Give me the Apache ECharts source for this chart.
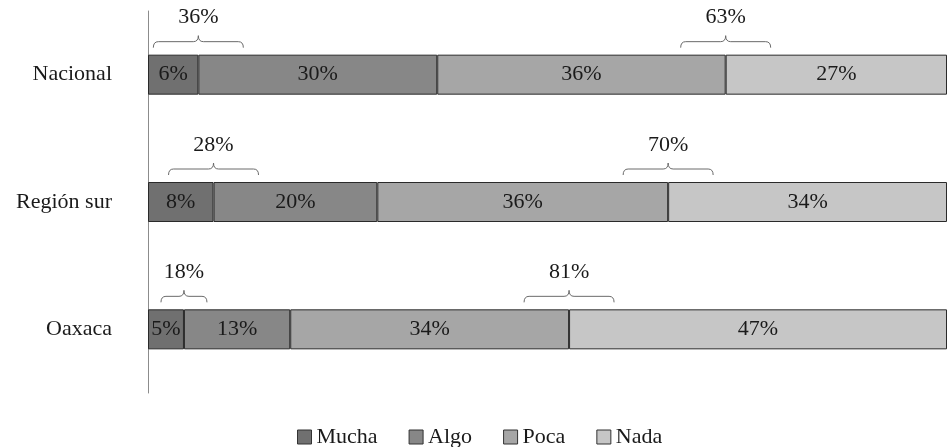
<!DOCTYPE html>
<html>
<head>
<meta charset="utf-8">
<script src="https://cdn.jsdelivr.net/npm/echarts@6/dist/echarts.min.js"></script>
<style>html,body{margin:0;padding:0;background:#fff}#c{width:947px;height:447px}</style>
</head>
<body>
<div id="c"></div>
<script>
// Categories (top to bottom)
const categories = ['Nacional', 'Región sur', 'Oaxaca'];
const seriesNames = ['Mucha', 'Algo', 'Poca', 'Nada'];
// Segment values (estimated unrounded shares, %)
const mucha = [6.3, 8.2, 4.5];
const algo  = [29.9, 20.5, 13.3];
const poca  = [36.1, 36.4, 34.9];
const nada  = [27.7, 34.9, 47.3];
// Labels printed in the segments
const muchaLabels = ['6%', '8%', '5%'];
const algoLabels  = ['30%', '20%', '13%'];
const pocaLabels  = ['36%', '36%', '34%'];
const nadaLabels  = ['27%', '34%', '47%'];
// Bracket totals (Mucha+Algo, Poca+Nada)
const positiveTotals = ['36%', '28%', '18%'];
const negativeTotals = ['63%', '70%', '81%'];

const colors = ['#707070', '#878787', '#a6a6a6', '#c6c6c6'];
const FONT = '"Liberation Serif", "DejaVu Serif", serif';
const FS = 22;

const values = [mucha, algo, poca, nada];
const labelSets = [muchaLabels, algoLabels, pocaLabels, nadaLabels];

const barSeries = seriesNames.map((name, i) => ({
  name: name,
  type: 'bar',
  stack: 'total',
  barWidth: 40,
  data: values[i],
  itemStyle: { color: colors[i], borderColor: '#2a2a2a', borderWidth: 1 },
  label: {
    show: true,
    position: 'inside',
    color: '#1a1a1a',
    fontFamily: FONT,
    fontSize: FS,
    formatter: p => labelSets[i][p.dataIndex]
  },
  emphasis: { disabled: true },
  z: 2
}));

// bracket data: boundary value (Mucha | Algo and Poca | Nada boundaries)
const bracketData = [];
categories.forEach((c, k) => {
  bracketData.push([mucha[k], k, positiveTotals[k]]);
  bracketData.push([mucha[k] + algo[k] + poca[k], k, negativeTotals[k]]);
});

function renderBracket(params, api) {
  const x = api.value(0), cat = api.value(1);
  const c = api.coord([x, cat]);
  const origin = api.coord([0, cat]);
  const barTop = c[1] - 20;
  const half = (c[0] - origin[0]) > 48 ? 45 : 23;
  const yEnd = barTop - 7, yLine = barTop - 13, yTip = barTop - 19;
  const x0 = c[0] - half, x1 = c[0] + half, xm = c[0];
  const r = 5;
  const path =
    'M' + x0 + ',' + yEnd +
    ' Q' + x0 + ',' + yLine + ' ' + (x0 + r) + ',' + yLine +
    ' L' + (xm - r) + ',' + yLine +
    ' Q' + xm + ',' + yLine + ' ' + xm + ',' + yTip +
    ' Q' + xm + ',' + yLine + ' ' + (xm + r) + ',' + yLine +
    ' L' + (x1 - r) + ',' + yLine +
    ' Q' + x1 + ',' + yLine + ' ' + x1 + ',' + yEnd;
  return {
    type: 'group',
    children: [
      {
        type: 'path',
        shape: { pathData: path },
        style: { fill: null, stroke: '#6a6a6a', lineWidth: 1 }
      },
      {
        type: 'text',
        style: {
          text: bracketData[params.dataIndex][2],
          x: xm, y: barTop - 37,
          align: 'center', verticalAlign: 'middle',
          font: FS + 'px ' + FONT, fill: '#1a1a1a'
        }
      }
    ]
  };
}

const chart = echarts.init(document.getElementById('c'), null, { renderer: 'canvas' });
chart.setOption({
  animation: false,
  backgroundColor: '#ffffff',
  color: colors,
  grid: { left: 148, right: 0, top: 11, bottom: 54, containLabel: false },
  xAxis: {
    type: 'value', min: 0, max: 100,
    show: false
  },
  yAxis: {
    type: 'category',
    data: categories,
    inverse: true,
    axisLine: { show: true, lineStyle: { color: '#8c8c8c', width: 1 } },
    axisTick: { show: false },
    axisLabel: { margin: 36, color: '#1a1a1a', fontFamily: FONT, fontSize: FS, padding: [4, 0, 0, 0] },
    splitLine: { show: false }
  },
  legend: {
    data: seriesNames,
    left: 292, top: 421,
    icon: 'rect',
    itemWidth: 14, itemHeight: 14, itemGap: 31,
    itemStyle: { borderColor: '#333', borderWidth: 1 },
    textStyle: { fontFamily: FONT, fontSize: FS, color: '#1a1a1a' }
  },
  series: barSeries.concat([{
    type: 'custom',
    name: 'brackets',
    renderItem: renderBracket,
    data: bracketData,
    encode: { x: 0, y: 1 },
    silent: true,
    z: 3
  }])
});
</script>
</body>
</html>
